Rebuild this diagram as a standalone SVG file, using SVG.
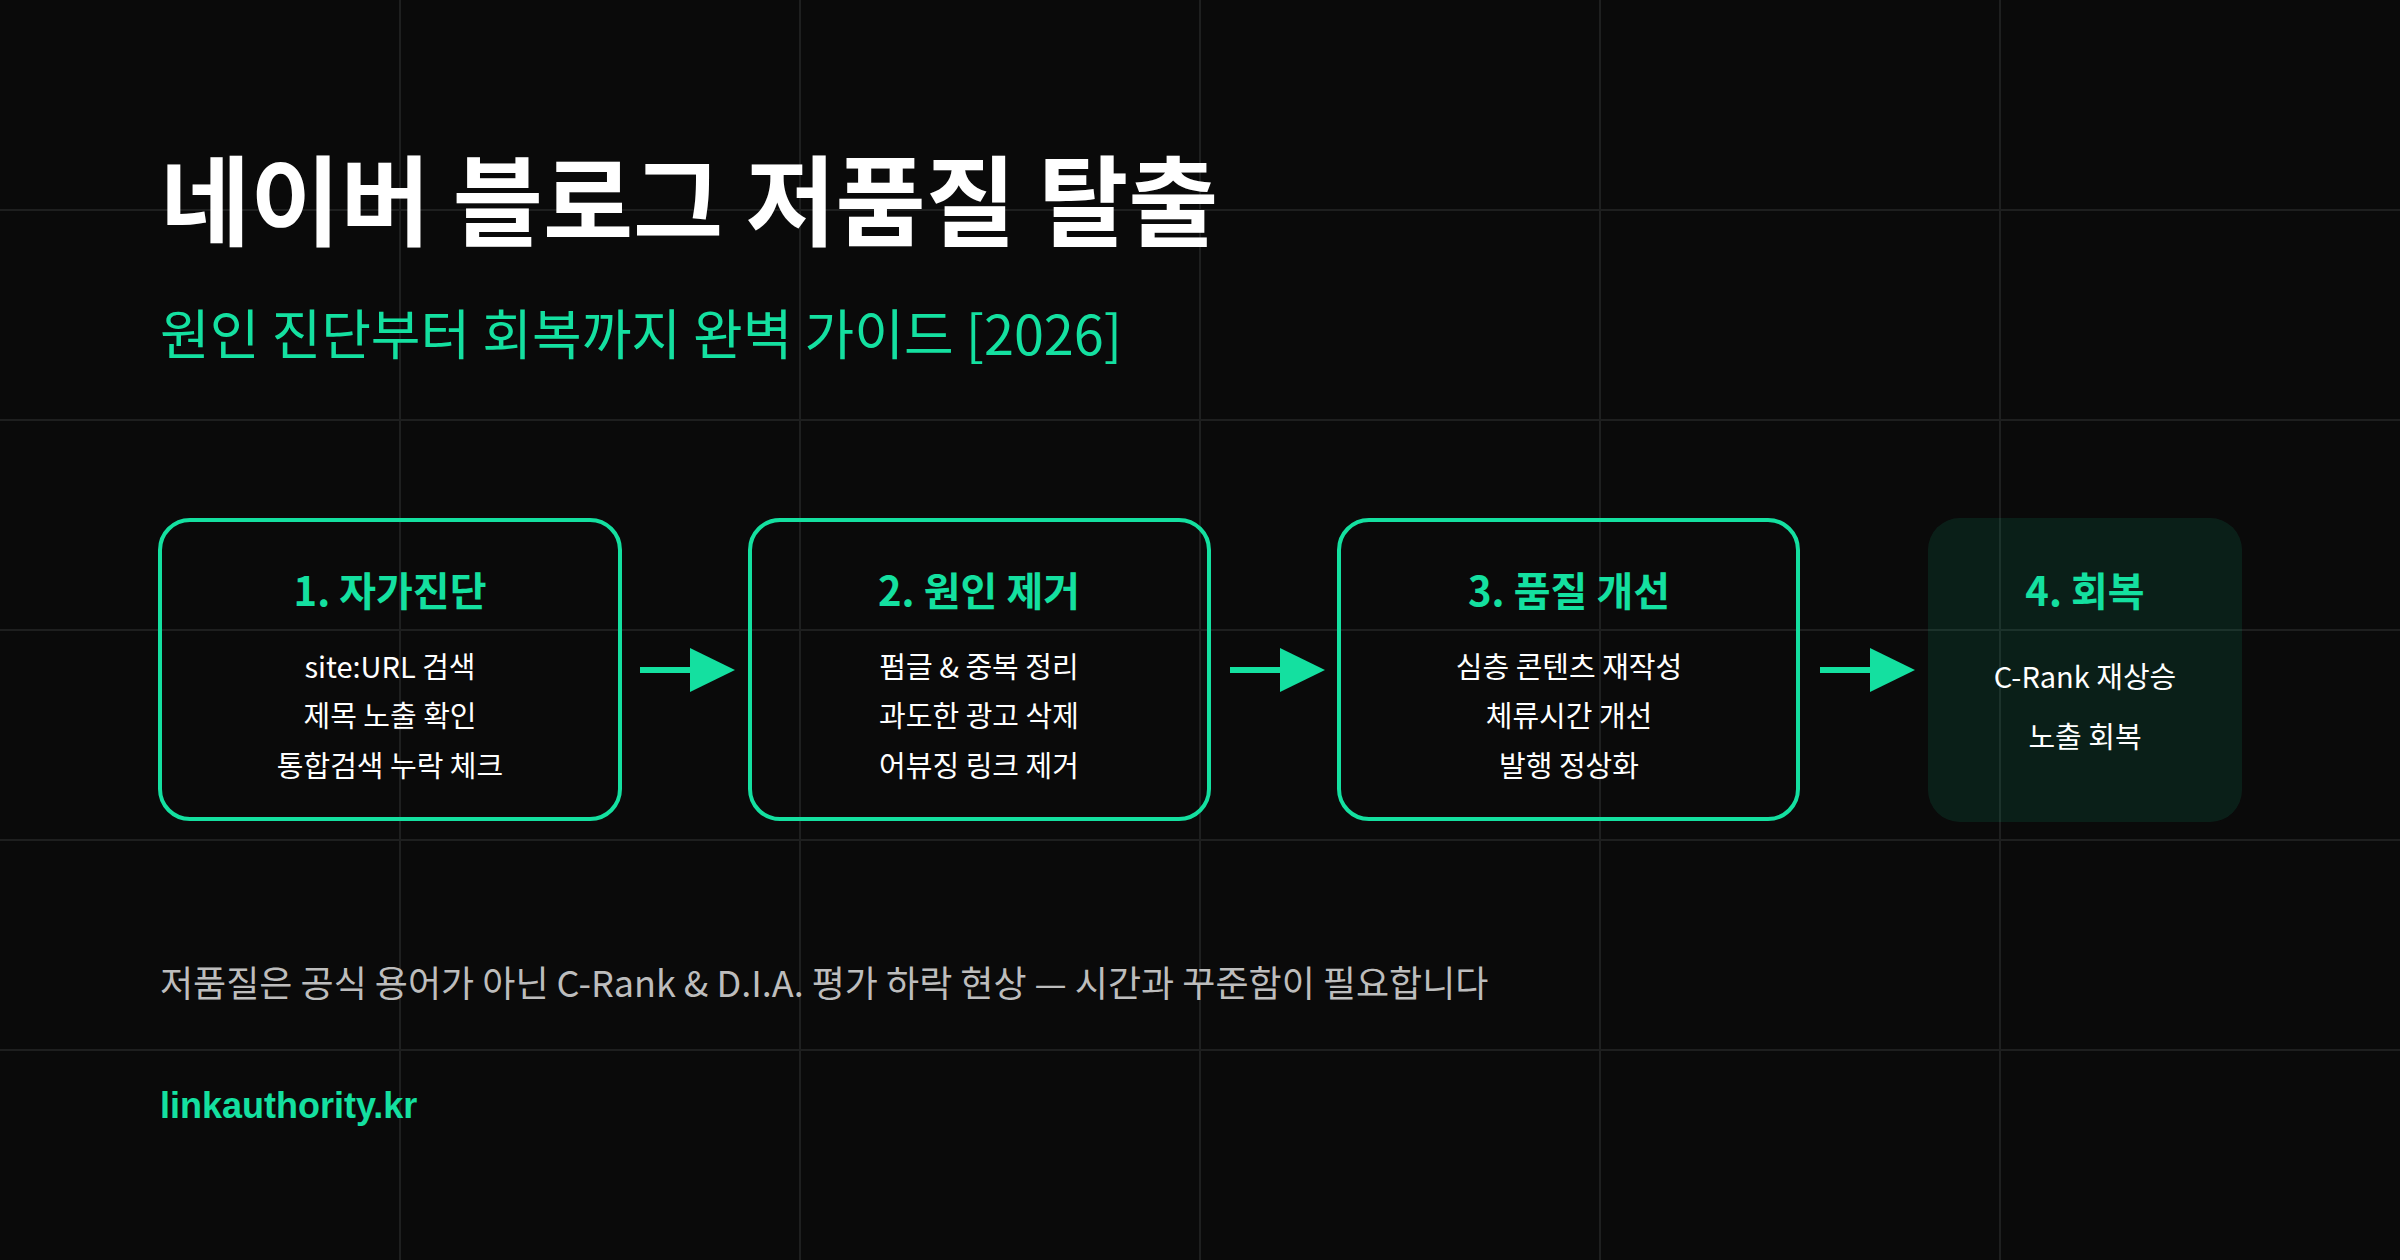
<svg xmlns="http://www.w3.org/2000/svg" width="2400" height="1260" viewBox="0 0 2400 1260">
<style>
.g{stroke:#1e1f1f;stroke-width:2}
.box{fill:none;stroke:#14e0a0;stroke-width:4}
.t{font-family:"Noto Sans CJK KR","Liberation Sans",sans-serif;font-weight:700;font-size:40px;fill:#14e0a0;text-anchor:middle}
.i{font-family:"Noto Sans CJK KR","Liberation Sans",sans-serif;font-size:29px;fill:#ffffff;text-anchor:middle}
.ln{stroke:#14e0a0;stroke-width:6}
.hd{fill:#14e0a0}
</style>
<rect width="2400" height="1260" fill="#0a0a0a"/>
<g id="grid">
<line class="g" x1="400" y1="0" x2="400" y2="1260"/><line class="g" x1="800" y1="0" x2="800" y2="1260"/><line class="g" x1="1200" y1="0" x2="1200" y2="1260"/><line class="g" x1="1600" y1="0" x2="1600" y2="1260"/><line class="g" x1="2000" y1="0" x2="2000" y2="1260"/>
<line class="g" x1="0" y1="210" x2="2400" y2="210"/><line class="g" x1="0" y1="420" x2="2400" y2="420"/><line class="g" x1="0" y1="630" x2="2400" y2="630"/><line class="g" x1="0" y1="840" x2="2400" y2="840"/><line class="g" x1="0" y1="1050" x2="2400" y2="1050"/>
</g>
<text x="160" y="238" font-family="Noto Sans CJK KR,Liberation Sans,sans-serif" font-weight="700" font-size="98" fill="#ffffff">네이버 블로그 저품질 탈출</text>
<text x="160" y="355" font-family="Noto Sans CJK KR,Liberation Sans,sans-serif" font-size="54" fill="#14e0a0">원인 진단부터 회복까지 완벽 가이드 [2026]</text>
<g id="n1"><rect class="box" x="160" y="520" width="460" height="299" rx="30"/>
<text class="t" x="390" y="606">1. 자가진단</text>
<text class="i" x="390" y="678">site:URL 검색</text><text class="i" x="390" y="727">제목 노출 확인</text><text class="i" x="390" y="777">통합검색 누락 체크</text></g>
<g id="n2"><rect class="box" x="750" y="520" width="459" height="299" rx="30"/>
<text class="t" x="979" y="606">2. 원인 제거</text>
<text class="i" x="979" y="678">펌글 &amp; 중복 정리</text><text class="i" x="979" y="727">과도한 광고 삭제</text><text class="i" x="979" y="777">어뷰징 링크 제거</text></g>
<g id="n3"><rect class="box" x="1339" y="520" width="459" height="299" rx="30"/>
<text class="t" x="1569" y="606">3. 품질 개선</text>
<text class="i" x="1569" y="678">심층 콘텐츠 재작성</text><text class="i" x="1569" y="727">체류시간 개선</text><text class="i" x="1569" y="777">발행 정상화</text></g>
<g id="n4"><rect x="1928" y="518" width="314" height="304" rx="32" fill="#14e0a0" fill-opacity="0.1"/>
<text class="t" x="2085" y="606">4. 회복</text>
<text class="i" x="2085" y="688">C-Rank 재상승</text><text class="i" x="2085" y="748">노출 회복</text></g>
<g id="connectors">
<line class="ln" x1="640" y1="670" x2="695" y2="670"/><polygon class="hd" points="690,648 735,670 690,692"/>
<line class="ln" x1="1230" y1="670" x2="1285" y2="670"/><polygon class="hd" points="1280,648 1325,670 1280,692"/>
<line class="ln" x1="1820" y1="670" x2="1875" y2="670"/><polygon class="hd" points="1870,648 1915,670 1870,692"/>
</g>
<text x="160" y="997" font-family="Noto Sans CJK KR,Liberation Sans,sans-serif" font-size="36" fill="#bdbdbd">저품질은 공식 용어가 아닌 C-Rank &amp; D.I.A. 평가 하락 현상 — 시간과 꾸준함이 필요합니다</text>
<text x="160" y="1118" font-family="Liberation Sans,Noto Sans CJK KR,sans-serif" font-weight="700" font-size="36" fill="#14e0a0">linkauthority.kr</text>
</svg>
